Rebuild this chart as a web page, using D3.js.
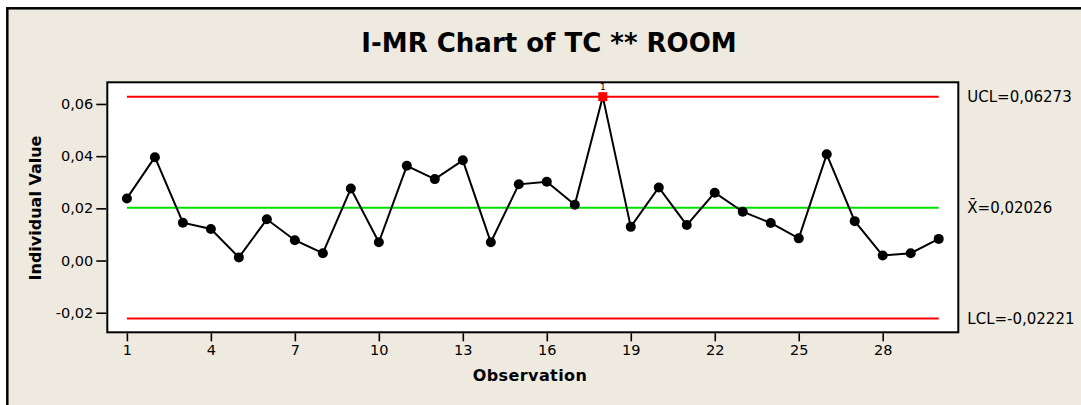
<!DOCTYPE html>
<html>
<head>
<meta charset="utf-8">
<script src="https://d3js.org/d3.v7.min.js"></script>
<style>
  body { margin: 0; background: #fff; }
  text { font-family: "DejaVu Sans", Verdana, sans-serif; fill: #000; }
</style>
</head>
<body>
<script>
// individual values per observation
var values = [0.0238, 0.0396, 0.0145, 0.0121, 0.0012, 0.0158, 0.0078, 0.0028, 0.0276, 0.0070,
              0.0363, 0.0312, 0.0384, 0.0070, 0.0292, 0.0302, 0.0214, 0.0628, 0.0129, 0.0280,
              0.0136, 0.0260, 0.0187, 0.0144, 0.0085, 0.0407, 0.0151, 0.0019, 0.0028, 0.0083];
var xTicks = [1, 4, 7, 10, 13, 16, 19, 22, 25, 28];
var yTicks = [-0.02, 0, 0.02, 0.04, 0.06];
var limitValues = [0.06273, 0.02026, -0.02221];
var limitLabels = ["UCL=0,06273", "X̄=0,02026", "LCL=-0,02221"];
var limitColors = ["#ff0000", "#00e000", "#ff0000"];
var outOfControl = [18]; // test 1 failures

var W = 1081, H = 405;
var plot = {left: 107.3, top: 82.3, right: 958.3, bottom: 332.3};

var svg = d3.select("body").append("svg")
    .attr("width", W)
    .attr("height", H);

// beige panel with border on top/left
svg.append("rect")
    .attr("x", 7.3).attr("y", 8.3)
    .attr("width", W + 20).attr("height", H + 20)
    .attr("fill", "#eeeae0")
    .attr("stroke", "#000")
    .attr("stroke-width", 2.5);

var x = d3.scaleLinear().domain([0.3, 30.7]).range([plot.left, plot.right]);
var y = d3.scaleLinear().domain([-0.0275, 0.0683]).range([plot.bottom, plot.top]);

var loc = d3.formatLocale({decimal: ",", thousands: ".", grouping: [3], currency: ["", ""], minus: "-"});
var fmt = loc.format(".2f");

svg.append("rect")
    .attr("x", plot.left).attr("y", plot.top)
    .attr("width", plot.right - plot.left).attr("height", plot.bottom - plot.top)
    .attr("fill", "#fff")
    .attr("stroke", "#000")
    .attr("stroke-width", 2);

// title
svg.append("text")
    .attr("x", 549).attr("y", 52)
    .attr("text-anchor", "middle")
    .attr("font-weight", "bold")
    .attr("font-size", 26)
    .text("I-MR Chart of TC ** ROOM");

// axes
var yAxis = svg.append("g")
    .attr("transform", "translate(" + (plot.left - 1) + ",0)")
    .call(d3.axisLeft(y).tickValues(yTicks).tickFormat(fmt).tickSize(10).tickPadding(3).tickSizeOuter(0));
yAxis.select(".domain").remove();
yAxis.selectAll(".tick line").attr("stroke-width", 1.6);
yAxis.selectAll(".tick text").style("font-family", "DejaVu Sans").attr("font-size", 14.5);

var xAxis = svg.append("g")
    .attr("transform", "translate(0," + (plot.bottom + 1) + ")")
    .call(d3.axisBottom(x).tickValues(xTicks).tickSize(8).tickPadding(3).tickSizeOuter(0));
xAxis.select(".domain").remove();
xAxis.selectAll(".tick line").attr("stroke-width", 1.6);
xAxis.selectAll(".tick text").style("font-family", "DejaVu Sans").attr("font-size", 14.5);

svg.append("text")
    .attr("x", 530).attr("y", 380.5)
    .attr("text-anchor", "middle")
    .attr("font-weight", "bold")
    .attr("font-size", 16)
    .attr("letter-spacing", 0.4)
    .text("Observation");

svg.append("text")
    .attr("transform", "translate(40.5,208) rotate(-90)")
    .attr("text-anchor", "middle")
    .attr("font-weight", "bold")
    .attr("font-size", 16)
    .text("Individual Value");

// control limits
svg.selectAll(".limit")
    .data(limitValues).enter()
    .append("line")
    .attr("class", "limit")
    .attr("x1", x(1)).attr("x2", x(values.length))
    .attr("y1", d => y(d)).attr("y2", d => y(d))
    .attr("stroke", (d, i) => limitColors[i])
    .attr("stroke-width", 2);

svg.selectAll(".limitLabel")
    .data(limitValues).enter()
    .append("text")
    .attr("class", "limitLabel")
    .attr("x", plot.right + 9)
    .attr("y", d => y(d))
    .attr("dy", "0.36em")
    .attr("font-size", 15)
    .text((d, i) => limitLabels[i]);

// data line and points
svg.append("path")
    .datum(values)
    .attr("fill", "none")
    .attr("stroke", "#000")
    .attr("stroke-width", 2)
    .attr("d", d3.line().x((d, i) => x(i + 1)).y(d => y(d)));

var pts = values.map((v, i) => ({obs: i + 1, v: v}));

svg.selectAll(".pt")
    .data(pts.filter(p => outOfControl.indexOf(p.obs) < 0)).enter()
    .append("circle")
    .attr("class", "pt")
    .attr("cx", d => x(d.obs))
    .attr("cy", d => y(d.v))
    .attr("r", 5)
    .attr("fill", "#000");

var bad = pts.filter(p => outOfControl.indexOf(p.obs) >= 0);
svg.selectAll(".bad")
    .data(bad).enter()
    .append("rect")
    .attr("class", "bad")
    .attr("x", d => x(d.obs) - 4.5)
    .attr("y", d => y(d.v) - 4.5)
    .attr("width", 9).attr("height", 9)
    .attr("fill", "#ff0000");

svg.selectAll(".badLabel")
    .data(bad).enter()
    .append("text")
    .attr("class", "badLabel")
    .attr("x", d => x(d.obs))
    .attr("y", d => y(d.v) - 7)
    .attr("text-anchor", "middle")
    .attr("font-size", 9)
    .text("1");
</script>
</body>
</html>
